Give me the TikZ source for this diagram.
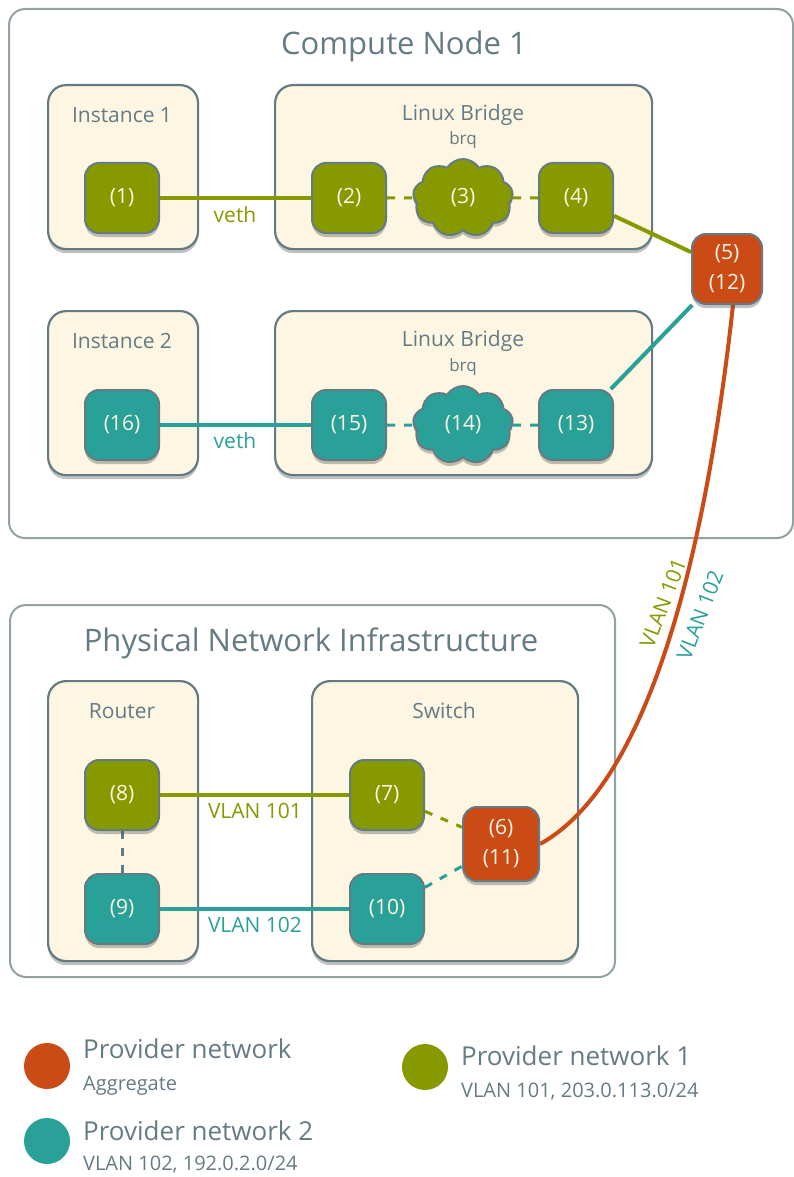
\documentclass[tikz,border=0pt]{standalone}
\usepackage{fontspec}
\setmainfont{Open Sans}
\usetikzlibrary{shapes.symbols,shadows}
\definecolor{pnolive}{HTML}{869A00}
\definecolor{pnteal}{HTML}{2AA198}
\definecolor{pnorange}{HTML}{CB4B16}
\definecolor{pnbeige}{HTML}{FDF6E3}
\definecolor{pntext}{HTML}{657B83}
\definecolor{pnborder}{HTML}{657B83}
\definecolor{pnouter}{HTML}{93A1A1}
\pgfdeclarelayer{boxes}
\pgfdeclarelayer{edges}
\pgfsetlayers{boxes,edges,main}
\newcommand{\fs}[1]{\fontsize{#1}{#1}\selectfont}
\tikzset{
  myshadow/.style={drop shadow={shadow xshift=0pt,shadow yshift=-4pt,opacity=0.35,fill=black!70}},
  outerbox/.style={draw=pnouter, line width=2pt, rounded corners=16pt, fill=white, anchor=north west, inner sep=0pt},
  box/.style={draw=pnborder, line width=2.2pt, rounded corners=18pt, fill=pnbeige, anchor=north west, inner sep=0pt, myshadow},
  bigtitle/.style={text=pntext, font=\fs{31}},
  boxtitle/.style={text=pntext, font=\fs{21}},
  subtitle/.style={text=pntext, font=\fs{17}},
  port/.style={draw=pnborder, line width=2pt, rounded corners=14pt, minimum width=74pt, minimum height=70pt, text=pnbeige, font=\fs{21}, inner sep=0pt, myshadow},
  olport/.style={port, fill=pnolive},
  tlport/.style={port, fill=pnteal},
  ogport/.style={port, fill=pnorange, align=center, font=\fontsize{21}{30}\selectfont},
  cloudport/.style={cloud, cloud puffs=9, cloud puff arc=115, aspect=1.3, draw=pnborder, line width=2pt, minimum width=100pt, minimum height=78pt, text=pnbeige, font=\fs{21}, inner sep=0pt, myshadow},
  oledge/.style={draw=pnolive, line width=4pt},
  tledge/.style={draw=pnteal, line width=4pt},
  ogedge/.style={draw=pnorange, line width=4pt},
  oldash/.style={draw=pnolive, line width=3pt, dash pattern=on 8pt off 9pt},
  tldash/.style={draw=pnteal, line width=3pt, dash pattern=on 8pt off 9pt},
  graydash/.style={draw=pnborder, line width=3pt, dash pattern=on 8pt off 9pt},
  edgelabel/.style={font=\fs{21}},
  legdot/.style={circle, minimum size=46pt, inner sep=0pt},
  legbig/.style={text=pntext, font=\fs{26}, anchor=base west, inner sep=0pt},
  legsmall/.style={text=pntext, font=\fs{20}, anchor=base west, inner sep=0pt},
}
\begin{document}
\begin{tikzpicture}[x=1pt,y=-1pt]
\useasboundingbox (0,0) rectangle (793,1177);
\begin{pgfonlayer}{boxes}
  \node[outerbox, minimum width=784pt, minimum height=529pt] (compute) at (8,8) {};
  \node[outerbox, minimum width=605pt, minimum height=372pt] (phys) at (9,604) {};
  \node[box, minimum width=150pt, minimum height=164pt] (inst1) at (47,84) {};
  \node[box, minimum width=377pt, minimum height=164pt] (br1) at (274,84) {};
  \node[box, minimum width=150pt, minimum height=164pt] (inst2) at (47,310) {};
  \node[box, minimum width=377pt, minimum height=164pt] (br2) at (274,310) {};
  \node[box, minimum width=150pt, minimum height=280pt] (router) at (47,680) {};
  \node[box, minimum width=266pt, minimum height=280pt] (switch) at (311,680) {};
\end{pgfonlayer}

\node[bigtitle] (tcompute) at (404,46) {Compute Node 1};
\node[bigtitle] (tphys) at (311,643) {Physical Network Infrastructure};
\node[boxtitle] (tinst1) at (122,115) {Instance 1};
\node[boxtitle] (tbr1) at (463,115) {Linux Bridge};
\node[subtitle] (tbrq1) at (463,140) {brq};
\node[boxtitle] (tinst2) at (122,341) {Instance 2};
\node[boxtitle] (tbr2) at (463,341) {Linux Bridge};
\node[subtitle] (tbrq2) at (463,367) {brq};
\node[boxtitle] (trouter) at (122,711) {Router};
\node[boxtitle] (tswitch) at (444,711) {Switch};

\node[olport] (n1) at (122,198) {(1)};
\node[olport] (n2) at (349,198) {(2)};
\node[cloudport, fill=pnolive] (n3) at (463,198) {(3)};
\node[olport] (n4) at (576,198) {(4)};
\node[ogport, minimum width=70pt, minimum height=70pt] (n5) at (727,269) {(5)\\(12)};
\node[tlport] (n16) at (122,425) {(16)};
\node[tlport] (n15) at (349,425) {(15)};
\node[cloudport, fill=pnteal] (n14) at (463,425) {(14)};
\node[tlport] (n13) at (576,425) {(13)};
\node[olport] (n8) at (122,795) {(8)};
\node[tlport] (n9) at (122,909) {(9)};
\node[olport] (n7) at (387,795) {(7)};
\node[tlport] (n10) at (387,909) {(10)};
\node[ogport, minimum width=76pt, minimum height=74pt] (n6) at (501,844) {(6)\\(11)};

\begin{pgfonlayer}{edges}
  \draw[oledge] (n1) -- (n2);
  \draw[oldash] (n2) -- (n3) -- (n4);
  \draw[oledge] (n4) -- (n5);
  \draw[tledge] (n16) -- (n15);
  \draw[tldash] (n15) -- (n14) -- (n13);
  \draw[tledge] (n13) -- (n5);
  \draw[ogedge] ([xshift=6pt]n5.south) .. controls (695,650) and (620,800) .. (n6.east);
  \draw[oledge] (n8) -- (n7);
  \draw[tledge] (n9) -- (n10);
  \draw[graydash] (n8) -- (n9);
  \draw[oldash] (n7) -- (n6);
  \draw[tldash] (n10) -- (n6);
\end{pgfonlayer}

\node[edgelabel, text=pnolive] (lveth1) at (235,215) {veth};
\node[edgelabel, text=pnteal] (lveth2) at (235,441) {veth};
\node[edgelabel, text=pnolive] (lvlan101) at (255,811) {VLAN 101};
\node[edgelabel, text=pnteal] (lvlan102) at (255,925) {VLAN 102};
\node[edgelabel, text=pnolive, rotate=69, inner sep=0pt] (lcurve101) at (663,603) {VLAN 101};
\node[edgelabel, text=pnteal, rotate=69, inner sep=0pt] (lcurve102) at (700,615) {VLAN 102};

\node[legdot, fill=pnorange] (dagg) at (47,1066) {};
\node[legbig] (tagg) at (83,1058) {Provider network};
\node[legsmall] (tagg2) at (83,1090) {Aggregate};
\node[legdot, fill=pnteal] (dpn2) at (47,1141) {};
\node[legbig] (tpn2) at (83,1140) {Provider network 2};
\node[legsmall] (tpn2b) at (83,1170) {VLAN 102, 192.0.2.0/24};
\node[legdot, fill=pnolive] (dpn1) at (425,1067) {};
\node[legbig] (tpn1) at (461,1065) {Provider network 1};
\node[legsmall] (tpn1b) at (461,1097) {VLAN 101, 203.0.113.0/24};
\end{tikzpicture}
\end{document}
